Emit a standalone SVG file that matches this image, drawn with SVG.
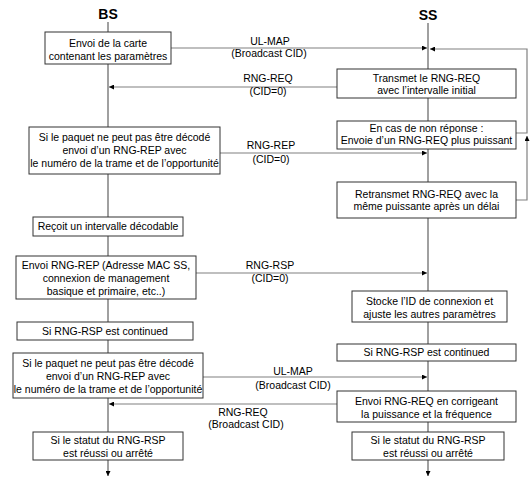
<svg xmlns="http://www.w3.org/2000/svg" width="531" height="489" viewBox="0 0 531 489">
<style>
.box{fill:#fff;stroke:#333;stroke-width:1}
.life{stroke:#808080;stroke-width:1.5;fill:none}
.con{stroke:#808080;stroke-width:1.2;fill:none}
text{font-family:"Liberation Sans",Arial,sans-serif;font-size:10.5px;fill:#000;text-anchor:middle}
.title{font-size:14px;font-weight:bold}
</style>
<defs>
<marker id="ah" viewBox="0 0 6 6" refX="6" refY="3" markerWidth="6" markerHeight="5" markerUnits="userSpaceOnUse" orient="auto">
<path d="M0,0 L6,3 L0,6 z" fill="#000"/>
</marker>
</defs>
<rect width="531" height="489" fill="#fff"/>
<g id="lifelines">
<text class="title" x="108" y="19">BS</text>
<text class="title" x="428" y="20">SS</text>
<line class="life" x1="108" y1="22" x2="108" y2="476" marker-end="url(#ah)"/>
<line class="life" x1="428" y1="23" x2="428" y2="476" marker-end="url(#ah)"/>
</g>
<g id="connectors">
<line class="con" x1="171" y1="48" x2="427" y2="48" marker-end="url(#ah)"/>
<text x="270" y="45">UL-MAP</text>
<text x="269" y="57">(Broadcast CID)</text>
<line class="con" x1="337" y1="87" x2="109" y2="87" marker-end="url(#ah)"/>
<text x="268" y="82">RNG-REQ</text>
<text x="268" y="95">(CID=0)</text>
<line class="con" x1="220" y1="153" x2="427" y2="153" marker-end="url(#ah)"/>
<text x="271" y="149">RNG-REP</text>
<text x="271" y="163">(CID=0)</text>
<line class="con" x1="196" y1="273" x2="427" y2="273" marker-end="url(#ah)"/>
<text x="270" y="269">RNG-RSP</text>
<text x="270" y="282">(CID=0)</text>
<line class="con" x1="203" y1="377" x2="427" y2="377" marker-end="url(#ah)"/>
<text x="293" y="375">UL-MAP</text>
<text x="293" y="389">(Broadcast CID)</text>
<line class="con" x1="337" y1="404" x2="109" y2="404" marker-end="url(#ah)"/>
<text x="243" y="416">RNG-REQ</text>
<text x="246" y="428">(Broadcast CID)</text>
<path class="con" d="M516,133 H527 V49 H430" marker-end="url(#ah)"/>
<path class="con" d="M516,200 H527 V136" marker-end="url(#ah)"/>
</g>
<g id="bs1"><rect class="box" x="45" y="32" width="126" height="32"/>
<text x="108" y="47">Envoi de la carte</text><text x="108" y="60">contenant les paramètres</text></g>
<g id="bs2"><rect class="box" x="29" y="127" width="191" height="47"/>
<text x="124.5" y="141">Si le paquet ne peut pas être décodé</text><text x="124.5" y="154">envoi d’un RNG-REP avec</text><text x="124.5" y="167">le numéro de la trame et de l’opportunité</text></g>
<g id="bs3"><rect class="box" x="33" y="217" width="150" height="19"/>
<text x="108" y="230">Reçoit un intervalle décodable</text></g>
<g id="bs4"><rect class="box" x="16" y="256" width="180" height="43"/>
<text x="106" y="269">Envoi RNG-REP (Adresse MAC SS,</text><text x="106" y="282">connexion de management</text><text x="106" y="295">basique et primaire, etc..)</text></g>
<g id="bs5"><rect class="box" x="17" y="322" width="176" height="18"/>
<text x="105" y="335">Si RNG-RSP est continued</text></g>
<g id="bs6"><rect class="box" x="13" y="353" width="190" height="45"/>
<text x="108" y="367">Si le paquet ne peut pas être décodé</text><text x="108" y="380">envoi d’un RNG-REP avec</text><text x="108" y="393">le numéro de la trame et de l’opportunité</text></g>
<g id="bs7"><rect class="box" x="33" y="432" width="150" height="28"/>
<text x="108" y="444">Si le statut du RNG-RSP</text><text x="108" y="457">est réussi ou arrêté</text></g>
<g id="ss1"><rect class="box" x="337" y="69" width="179" height="29"/>
<text x="426.5" y="82">Transmet le RNG-REQ</text><text x="426.5" y="94">avec l’intervalle initial</text></g>
<g id="ss2"><rect class="box" x="337" y="121" width="179" height="28"/>
<text x="426.5" y="132">En cas de non réponse :</text><text x="426.5" y="144">Envoie d’un RNG-REQ plus puissant</text></g>
<g id="ss3"><rect class="box" x="337" y="182" width="179" height="36"/>
<text x="426.5" y="198">Retransmet RNG-REQ avec la</text><text x="426.5" y="210">même puissante après un délai</text></g>
<g id="ss4"><rect class="box" x="352" y="291" width="155" height="31"/>
<text x="429.5" y="305">Stocke l’ID de connexion et</text><text x="429.5" y="318">ajuste les autres paramètres</text></g>
<g id="ss5"><rect class="box" x="337" y="344" width="179" height="17"/>
<text x="426.5" y="356">Si RNG-RSP est continued</text></g>
<g id="ss6"><rect class="box" x="337" y="391" width="179" height="31"/>
<text x="426.5" y="405">Envoi RNG-REQ en corrigeant</text><text x="426.5" y="418">la puissance et la fréquence</text></g>
<g id="ss7"><rect class="box" x="352" y="432" width="152" height="28"/>
<text x="428" y="444">Si le statut du RNG-RSP</text><text x="428" y="457">est réussi ou arrêté</text></g>
</svg>
